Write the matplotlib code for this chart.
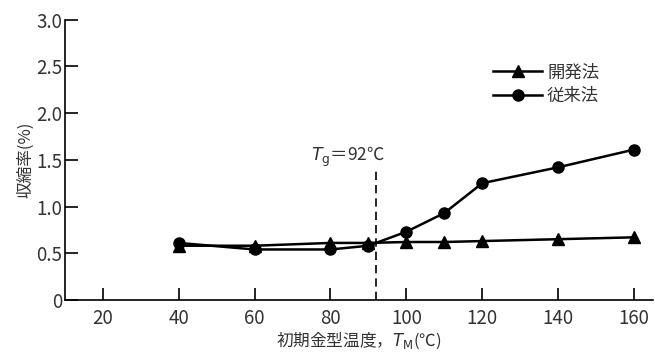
"""Shrinkage vs initial mold temperature, development vs conventional method."""

import matplotlib
matplotlib.use("Agg")
import matplotlib.pyplot as plt

plt.rcParams['font.family'] = ['Noto Sans CJK JP', 'DejaVu Sans']
plt.rcParams['mathtext.fontset'] = 'dejavusans'

temps = [40, 60, 80, 90, 100, 110, 120, 140, 160]
new_method = [0.58, 0.58, 0.61, 0.61, 0.62, 0.62, 0.63, 0.65, 0.67]
old_method = [0.61, 0.54, 0.54, 0.58, 0.73, 0.93, 1.25, 1.42, 1.61]
series_labels = ["開発法", "従来法"]
tg = 92
x_ticks = [20, 40, 60, 80, 100, 120, 140, 160]
y_ticks = [0, 0.5, 1.0, 1.5, 2.0, 2.5, 3.0]
y_tick_labels = ["0", "0.5", "1.0", "1.5", "2.0", "2.5", "3.0"]

TXT = "#333333"

fig = plt.figure(figsize=(6.55, 3.6), dpi=100)
ax = fig.add_axes([0.099, 0.167, 0.898, 0.778])

ax.plot(temps, new_method, color="black", lw=1.8, marker="^", ms=8,
        label=series_labels[0], zorder=3)
ax.plot(temps, old_method, color="black", lw=1.8, marker="o", ms=8,
        label=series_labels[1], zorder=3)

ax.plot([tg, tg], [0, 1.4], color="black", lw=1.2, ls=(0, (5, 3)))
ax.text(tg + 2.5, 1.53, r"$\it{T}_{\rm g}$＝92℃", ha="right", va="center",
        fontsize=12.5, color=TXT)

ax.set_xlim(10, 165)
ax.set_ylim(0, 3.0)
ax.set_xticks(x_ticks)
ax.set_yticks(y_ticks)
ax.set_yticklabels(y_tick_labels)
ax.tick_params(direction="in", length=9, width=1.2, labelsize=13.5,
               labelcolor=TXT)
ax.tick_params(axis="x", pad=6)
ax.tick_params(axis="y", pad=2)

for side in ["top", "right"]:
    ax.spines[side].set_visible(False)
for side in ["left", "bottom"]:
    ax.spines[side].set_linewidth(1.2)

ax.set_xlabel(r"初期金型温度，$\it{T}_{\rm M}$(℃)", fontsize=12,
              color=TXT, labelpad=1)
ax.set_ylabel("収縮率(%)", fontsize=12, color=TXT, labelpad=1)

ax.legend(loc="upper right", bbox_to_anchor=(0.935, 0.9), frameon=False,
          fontsize=12.5, handlelength=2.8, labelspacing=0.3, handletextpad=0.3,
          labelcolor=TXT)

fig.savefig("out.png", dpi=100)
